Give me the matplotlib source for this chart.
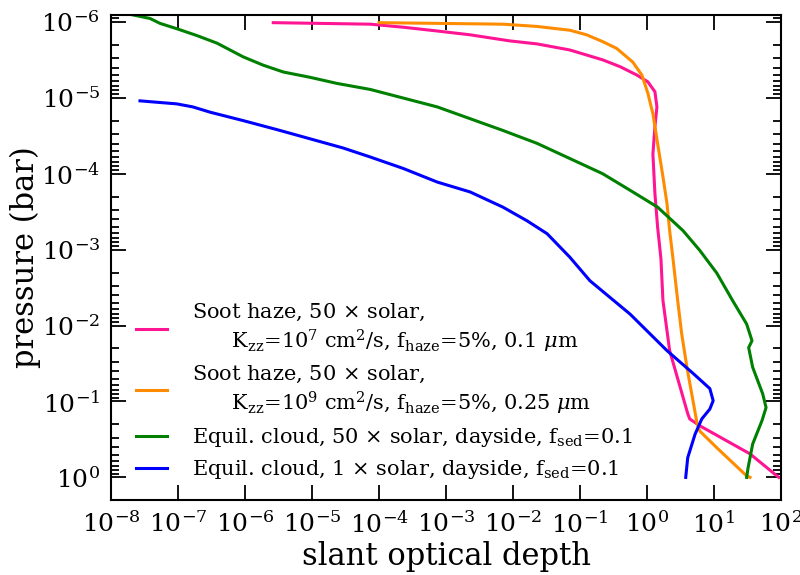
import numpy as np
import matplotlib
matplotlib.use('Agg')
import matplotlib.pyplot as plt

plt.rcParams['font.family'] = 'DejaVu Serif'
plt.rcParams['mathtext.fontset'] = 'dejavuserif'
plt.rcParams['axes.unicode_minus'] = False

# log10(slant optical depth), log10(pressure / bar)
haze1_logtau = [-5.58, -4.13, -3.64, -3.13, -2.64, -2.05, -1.64, -1.15, -0.66, -0.40, -0.15,
                0.015, 0.12, 0.15, 0.12, 0.09, 0.12, 0.16, 0.21, 0.24, 0.34, 0.61, 0.64,
                0.79, 1.54, 1.97]
haze1_logp = [-5.99, -5.97, -5.93, -5.88, -5.83, -5.75, -5.71, -5.63, -5.50, -5.41, -5.30,
              -5.21, -5.08, -4.88, -4.62, -4.26, -3.74, -3.30, -2.88, -2.33, -1.67, -0.84,
              -0.77, -0.68, -0.31, 0.0]

haze2_logtau = [-4.0, -2.15, -1.64, -1.15, -0.90, -0.66, -0.45, -0.21, -0.075, 0.015, 0.09,
                0.16, 0.24, 0.30, 0.34, 0.39, 0.46, 0.52, 0.60, 0.75, 0.79, 1.045, 1.49, 1.54]
haze2_logp = [-5.99, -5.97, -5.94, -5.89, -5.83, -5.74, -5.65, -5.47, -5.30, -5.06, -4.79,
              -4.40, -3.96, -3.61, -3.25, -2.88, -2.33, -1.89, -1.44, -0.71, -0.61, -0.39,
              -0.02, 0.0]

cloud50_logtau = [-8.0, -7.72, -7.42, -7.27, -7.02, -6.72, -6.42, -6.03, -5.73, -5.43, -5.03,
                  -4.63, -4.13, -3.13, -2.15, -1.64, -1.15, -0.66, -0.21, 0.16, 0.54, 0.79,
                  1.045, 1.28, 1.49, 1.57, 1.52, 1.58, 1.73, 1.78, 1.72, 1.58, 1.51, 1.49]
cloud50_logp = [-6.14, -6.10, -6.045, -5.98, -5.91, -5.82, -5.72, -5.54, -5.43, -5.34, -5.27,
                -5.19, -5.11, -4.88, -4.57, -4.40, -4.20, -4.0, -3.76, -3.56, -3.25, -2.99,
                -2.69, -2.33, -2.02, -1.80, -1.71, -1.45, -1.10, -0.92, -0.75, -0.44, -0.12, 0.0]

cloud1_logtau = [-7.57, -7.02, -6.78, -6.52, -6.03, -5.52, -5.03, -4.54, -4.13, -3.64, -3.13,
                 -2.64, -2.15, -1.79, -1.49, -1.15, -0.85, -0.55, -0.25, 0.30, 0.69, 0.94,
                 0.99, 0.94, 0.82, 0.72, 0.61, 0.58]
cloud1_logp = [-4.96, -4.92, -4.88, -4.81, -4.70, -4.58, -4.46, -4.34, -4.22, -4.07, -3.89,
               -3.76, -3.56, -3.38, -3.21, -2.90, -2.59, -2.37, -2.15, -1.67, -1.37, -1.17,
               -1.01, -0.90, -0.77, -0.57, -0.26, 0.0]

labels = [
    'Soot haze, 50 $\\times$ solar,\n      K$_{\\rm zz}$=10$^{7}$ cm$^{2}$/s, f$_{\\rm haze}$=5%, 0.1 $\\mu$m',
    'Soot haze, 50 $\\times$ solar,\n      K$_{\\rm zz}$=10$^{9}$ cm$^{2}$/s, f$_{\\rm haze}$=5%, 0.25 $\\mu$m',
    'Equil. cloud, 50 $\\times$ solar, dayside, f$_{\\rm sed}$=0.1',
    'Equil. cloud, 1 $\\times$ solar, dayside, f$_{\\rm sed}$=0.1',
]
colors = ['#ff1493', '#ff8c00', 'green', 'blue']
series = [(haze1_logtau, haze1_logp), (haze2_logtau, haze2_logp),
          (cloud50_logtau, cloud50_logp), (cloud1_logtau, cloud1_logp)]

fig = plt.figure(figsize=(8, 5.75), dpi=100)
ax = fig.add_axes([0.139, 0.130, 0.837, 0.844])

for (lt, lp), c, lab in zip(series, colors, labels):
    ax.plot(10 ** np.array(lt), 10 ** np.array(lp), color=c, lw=2.2, label=lab,
            solid_joinstyle='round')

ax.set_xscale('log')
ax.set_yscale('log')
ax.set_xlim(1e-8, 1e2)
ax.set_ylim(2.0, 8.1e-7)
ax.set_xticks(10.0 ** np.arange(-8, 3))
ax.set_yticks(10.0 ** np.arange(-6, 1))

ax.tick_params(which='both', direction='in', top=True, right=True, width=1.3, labelsize=18, pad=8)
ax.tick_params(which='major', length=11)
ax.tick_params(which='minor', length=6)
for s in ax.spines.values():
    s.set_linewidth(1.5)

ax.set_xlabel('slant optical depth', fontsize=22, labelpad=2)
ax.set_ylabel('pressure (bar)', fontsize=22, labelpad=0)

ax.legend(loc='upper left', bbox_to_anchor=(0.009, 0.447), frameon=False, fontsize=15,
          handlelength=1.5, handletextpad=1.2, labelspacing=0.45)

fig.savefig('out.png', dpi=100)
